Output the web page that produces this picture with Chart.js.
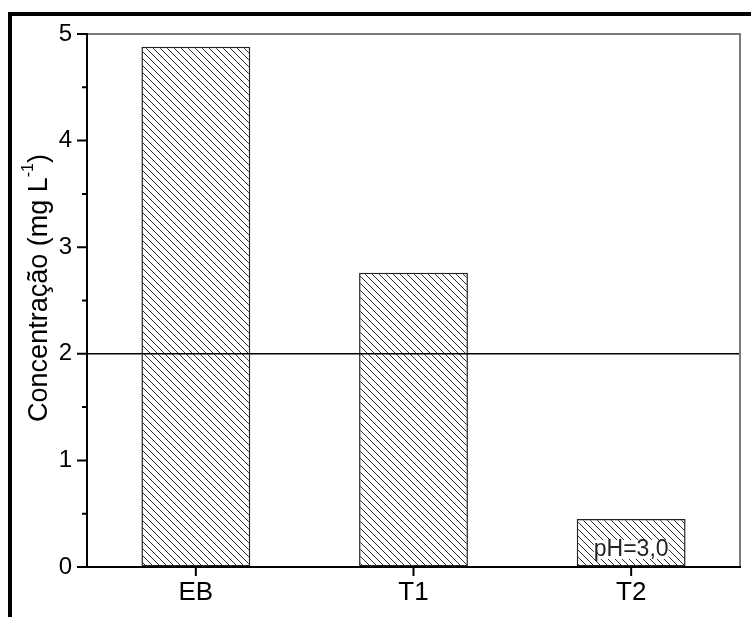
<!DOCTYPE html>
<html><head><meta charset="utf-8">
<script src="https://cdn.jsdelivr.net/npm/chart.js@4.4.0/dist/chart.umd.min.js"></script>
<style>html,body{margin:0;padding:0;background:#fff}#wrap{width:751px;height:617px}</style>
</head><body><div id="wrap"><canvas id="c" width="751" height="617"></canvas></div>
<script>
const categories = ['EB', 'T1', 'T2'];
const values = [4.88, 2.76, 0.45];
const yMajorTicks = [0, 1, 2, 3, 4, 5];
const yMinorTicks = [0.5, 1.5, 2.5, 3.5, 4.5];
const refLineValue = 2;
const annotationText = 'pH=3,0';
const annotationValue = 0.16;
const FONT = '"Liberation Sans", Arial, sans-serif';
Chart.defaults.font.family = FONT;

function hatch() {
  const s = 7;
  const p = document.createElement('canvas');
  p.width = s; p.height = s;
  const g = p.getContext('2d');
  g.fillStyle = '#fff'; g.fillRect(0, 0, s, s);
  g.strokeStyle = '#2a2a2a'; g.lineWidth = 1;
  g.beginPath();
  g.moveTo(-1, -1); g.lineTo(s + 1, s + 1);
  g.moveTo(-1, s - 1); g.lineTo(1, s + 1);
  g.moveTo(s - 1, -1); g.lineTo(s + 1, 1);
  g.stroke();
  return g.createPattern(p, 'repeat');
}

const deco = {
  id: 'deco',
  afterDatasetsDraw(chart) {
    const ctx = chart.ctx, a = chart.chartArea;
    const x = chart.scales.x, y = chart.scales.y;
    ctx.save();
    // annotation
    const tx = x.getPixelForValue(2), ty = y.getPixelForValue(annotationValue);
    ctx.font = '23px ' + FONT;
    ctx.textAlign = 'center'; ctx.textBaseline = 'middle';
    const w = ctx.measureText(annotationText).width;
    ctx.fillStyle = '#fff';
    ctx.fillRect(tx - w / 2, ty - 10, w, 19);
    ctx.fillStyle = '#222';
    ctx.fillText(annotationText, tx, ty);
    // reference line
    const ry = y.getPixelForValue(refLineValue);
    ctx.strokeStyle = '#000'; ctx.lineWidth = 1.5;
    ctx.beginPath(); ctx.moveTo(a.left, ry); ctx.lineTo(a.right, ry); ctx.stroke();
    // frame top/right
    ctx.strokeStyle = '#7a7a7a'; ctx.lineWidth = 2;
    ctx.beginPath(); ctx.moveTo(a.left, a.top); ctx.lineTo(a.right, a.top); ctx.lineTo(a.right, a.bottom); ctx.stroke();
    // axes left/bottom
    ctx.strokeStyle = '#000'; ctx.lineWidth = 2;
    ctx.beginPath(); ctx.moveTo(a.left, a.top - 1); ctx.lineTo(a.left, a.bottom); ctx.lineTo(a.right + 1, a.bottom); ctx.stroke();
    // ticks
    ctx.lineWidth = 2;
    ctx.beginPath();
    yMajorTicks.forEach(v => { const p = y.getPixelForValue(v); ctx.moveTo(a.left - 10, p); ctx.lineTo(a.left, p); });
    yMinorTicks.forEach(v => { const p = y.getPixelForValue(v); ctx.moveTo(a.left - 5, p); ctx.lineTo(a.left, p); });
    categories.forEach((c, i) => { const p = x.getPixelForValue(i); ctx.moveTo(p, a.bottom); ctx.lineTo(p, a.bottom + 9); });
    ctx.stroke();
    // y title
    ctx.translate(40, 288);
    ctx.rotate(-Math.PI / 2);
    ctx.fillStyle = '#000';
    ctx.textBaseline = 'middle'; ctx.textAlign = 'left';
    const main = 'Concentração (mg L';
    ctx.font = '27px ' + FONT;
    const mw = ctx.measureText(main).width;
    ctx.font = '16px ' + FONT;
    const sw = ctx.measureText('-1').width;
    ctx.font = '27px ' + FONT;
    const pw = ctx.measureText(')').width;
    const total = mw + sw + pw;
    let sx = -total / 2;
    ctx.fillText(main, sx, 0); sx += mw;
    ctx.font = '16px ' + FONT;
    ctx.fillText('-1', sx, -11); sx += sw;
    ctx.font = '27px ' + FONT;
    ctx.fillText(')', sx, 0);
    ctx.restore();
    // outer frame
    ctx.save();
    ctx.fillStyle = '#000';
    ctx.fillRect(8, 12, 751 - 8, 4);
    ctx.fillRect(8, 12, 4, 617 - 12);
    ctx.restore();
  }
};

new Chart(document.getElementById('c'), {
  type: 'bar',
  data: {
    labels: categories,
    datasets: [{
      data: values,
      backgroundColor: hatch(),
      borderColor: '#222',
      borderWidth: 1.5,
      borderSkipped: false,
      barPercentage: 0.5,
      categoryPercentage: 1.0
    }]
  },
  options: {
    responsive: false,
    animation: false,
    events: [],
    layout: { padding: { left: 0, top: 34, right: 11, bottom: 0 } },
    plugins: { legend: { display: false }, tooltip: { enabled: false } },
    scales: {
      x: {
        grid: { display: true, color: 'transparent', drawTicks: true, tickLength: 9, tickColor: 'transparent' },
        border: { display: false },
        ticks: { color: '#000', font: { size: 26 }, padding: 1, maxRotation: 0 },
        afterFit(s) { s.height = 50; }
      },
      y: {
        min: 0, max: 5,
        grid: { display: true, color: 'transparent', drawTicks: true, tickLength: 10, tickColor: 'transparent' },
        border: { display: false },
        ticks: {
          stepSize: 0.5, color: '#000', font: { size: 24 }, padding: 5,
          callback: v => Number.isInteger(v) ? String(v) : ''
        },
        afterFit(s) { s.width = 87; }
      }
    }
  },
  plugins: [deco]
});
</script></body></html>
